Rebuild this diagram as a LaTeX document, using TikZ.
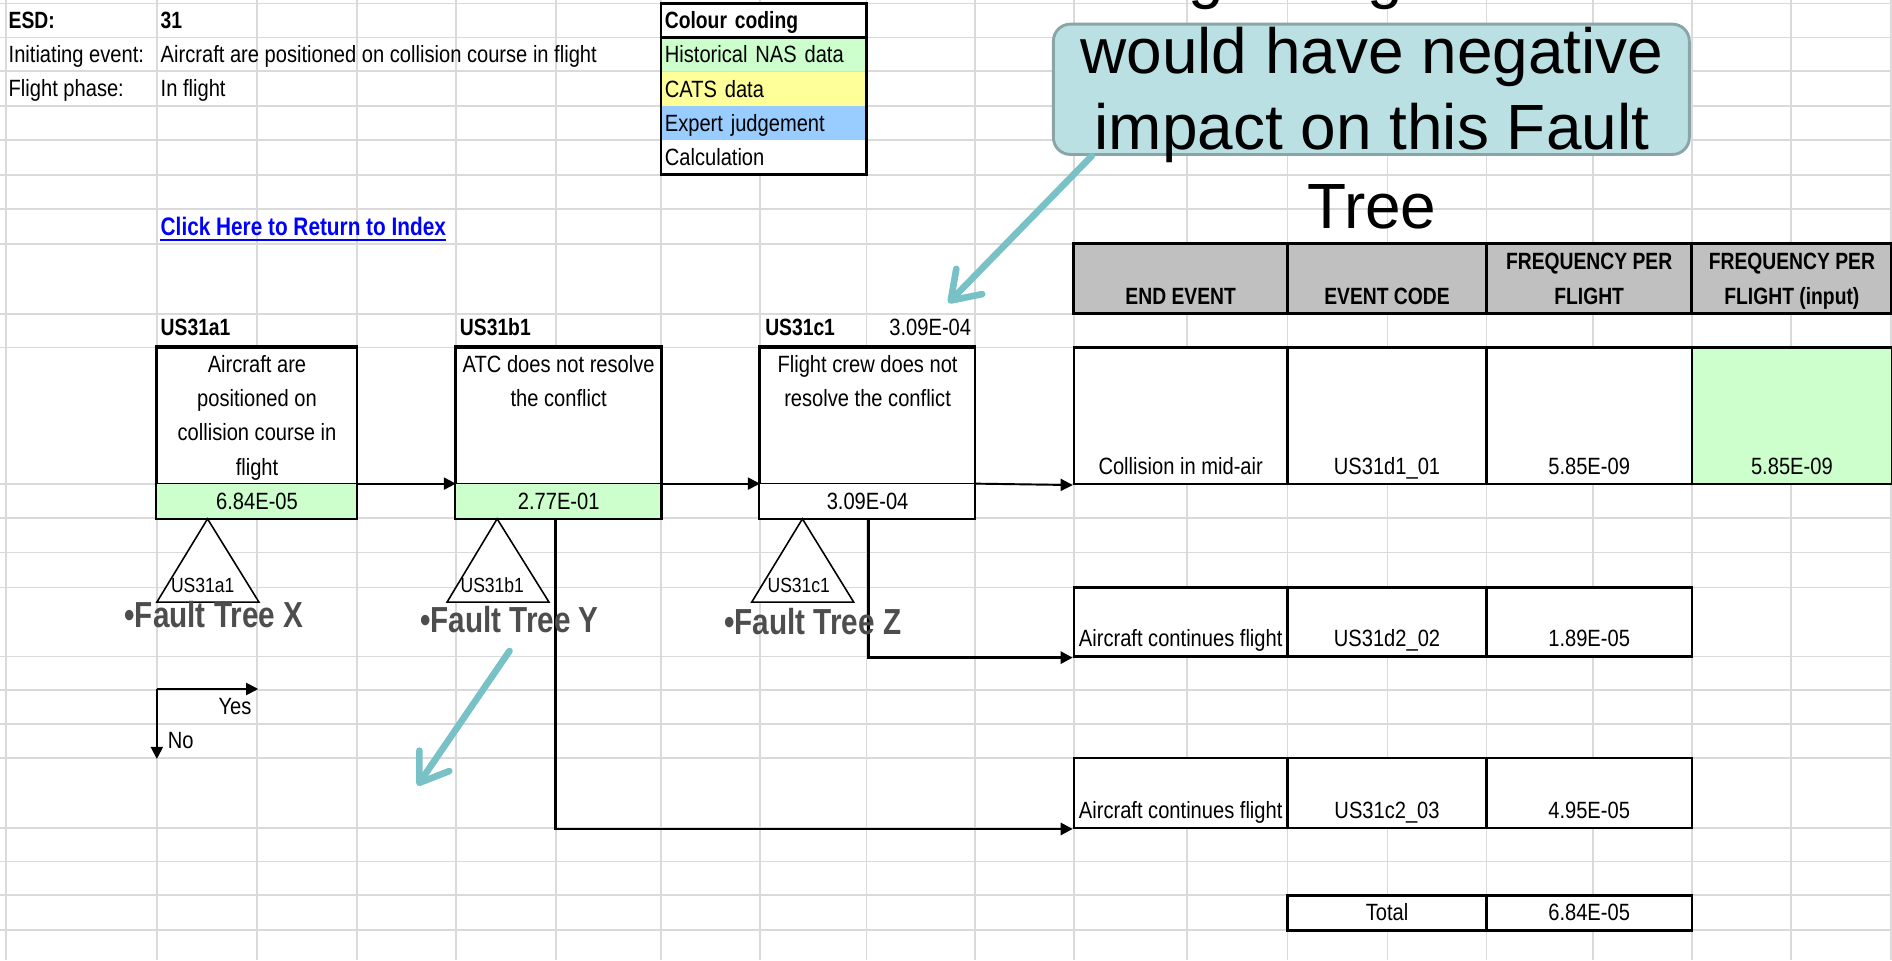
\documentclass[tikz,border=0pt]{standalone}
\usepackage{fontspec}
\setmainfont{Liberation Sans}
\newfontfamily\narrowfont[FakeStretch=0.855]{Liberation Sans}
\newfontfamily\narrowbold[FakeStretch=0.82]{Liberation Sans Bold}
\usetikzlibrary{arrows.meta}
\definecolor{gridgray}{RGB}{218,218,218}
\definecolor{nasgreen}{RGB}{204,255,204}
\definecolor{catsyellow}{RGB}{255,255,153}
\definecolor{expertblue}{RGB}{153,204,255}
\definecolor{hdrgray}{RGB}{192,192,192}
\definecolor{calloutfill}{RGB}{187,224,227}
\definecolor{calloutedge}{RGB}{138,165,168}
\definecolor{arrowteal}{RGB}{120,193,198}
\definecolor{ftgray}{RGB}{77,77,77}
\definecolor{linkblue}{RGB}{0,0,255}
\newcommand\cellfnt{\narrowfont\fontsize{19.5}{28.5}\selectfont}
\newcommand\cellbfnt{\narrowbold\fontsize{19.5}{28.5}\selectfont}
\newcommand\linkfnt{\narrowbold\fontsize{21}{28.5}\selectfont}
\newcommand\ftfnt{\narrowbold\fontsize{30}{34}\selectfont}
\newcommand\bigfnt{\fontsize{53}{64}\selectfont}
\newcommand\trifnt{\narrowfont\fontsize{17}{20}\selectfont}
\tikzset{
  gridln/.style={draw=gridgray, line width=1.4},
  txt/.style={inner sep=0pt, font=\cellfnt},
  btxt/.style={inner sep=0pt, font=\cellbfnt},
  legcell/.style={inner xsep=3pt, inner ysep=0pt, text width=164pt, align=left,
    minimum height=28.4, text height=15pt, text depth=1pt, font=\cellfnt},
  evbox/.style={draw, line width=1.8, fill=white, inner sep=0pt},
  evval/.style={inner sep=0pt, text height=15pt, text depth=1pt, font=\cellfnt},
  boxln/.style={line width=1.8},
  triln/.style={line width=1.3},
  trilab/.style={inner sep=0pt, font=\trifnt},
  ftlab/.style={inner sep=0pt, font=\ftfnt, text=ftgray},
  hdrcell/.style={draw, line width=2.6, fill=hdrgray, inner sep=0pt, minimum height=58},
  tcell/.style={draw, line width=2, fill=white, inner sep=0pt},
  blkarr/.style={line width=1.6, -{Triangle[length=10pt,width=10pt]}},
  blkarrthick/.style={line width=2.3, -{Triangle[length=10pt,width=10pt]}},
  tealarr/.style={draw=arrowteal, line width=5.5, line cap=round,
    -{Straight Barb[length=22pt,width=30pt,line cap=round,line join=round]}},
  bigtxt/.style={inner sep=0pt, font=\bigfnt},
}
\begin{document}
\begin{tikzpicture}[x=1pt,y=-1pt]
\useasboundingbox (0,0) rectangle (1568,796);
\fill[white] (0,0) rectangle (1568,796);
% spreadsheet grid
\foreach \gx in {5,130,213,296,378,461,548,630,718,808,890,984,1067,1150,1232,1320,1402,1484,1567}
  \draw[gridln] (\gx,0) -- (\gx,796);
\foreach \gy in {3,31,59,88,116,145,173,202,260,288,401,429,458,487,544,572,600,628,686,714,742,771}
  \draw[gridln] (0,\gy) -- (1568,\gy);

% header information
\node[btxt, anchor=base west] (esd) at (7,24) {ESD:};
\node[btxt, anchor=base west] (esdnum) at (133,24) {31};
\node[txt, anchor=base west] (inilab) at (7,52) {Initiating event:};
\node[txt, anchor=base west] (initxt) at (133,52) {Aircraft are positioned on collision course in flight};
\node[txt, anchor=base west] (phlab) at (7,80) {Flight phase:};
\node[txt, anchor=base west] (phtxt) at (133,80) {In flight};
\node[inner sep=0pt, font=\linkfnt, anchor=base west, text=linkblue] (link) at (133,195) {Click Here to Return to Index};
\draw[linkblue, line width=1.8] ([yshift=-3.5pt]link.south west) -- ([yshift=-3.5pt]link.south east);

% colour coding legend
\node[legcell, fill=white, font=\cellbfnt] (leghd) at (633,17) {Colour coding};
\node[legcell, fill=nasgreen] (legnas) at (633,45) {Historical NAS data};
\node[legcell, fill=catsyellow] (legcats) at (633,73.5) {CATS data};
\node[legcell, fill=expertblue] (legexp) at (633,102) {Expert judgement};
\node[legcell, fill=white] (legcalc) at (633,130.5) {Calculation};
\draw[line width=2.4] (leghd.north west) rectangle (legcalc.south east);
\draw[line width=2.4] (leghd.south west) -- (leghd.south east);

% callout
\node[draw=calloutedge, fill=calloutfill, line width=2.4, rounded corners=14pt,
  minimum width=527, minimum height=108, inner sep=0pt] (callout) at (1136.5,74) {};
\node[bigtxt, anchor=base] (g1) at (1000,-3) {g};
\node[bigtxt, anchor=base] (g2) at (1148,-3) {g};
\node[bigtxt, anchor=base] (cl1) at (1137,61) {would have negative};
\node[bigtxt, anchor=base] (cl2) at (1137,124) {impact on this Fault};
\node[bigtxt, anchor=base] (cl3) at (1137,189) {Tree};

% end-event table header
\node[hdrcell, minimum width=177] (h1) at (978.5,231) {};
\node[hdrcell, minimum width=165] (h2) at (1149.5,231) {};
\node[hdrcell, minimum width=170] (h3) at (1317,231) {};
\node[hdrcell, minimum width=166] (h4) at (1485,231) {};
\node[btxt, anchor=base] (h1t) at (h1 |- 0,252) {END EVENT};
\node[btxt, anchor=base] (h2t) at (h2 |- 0,252) {EVENT CODE};
\node[btxt, anchor=base] (h3ta) at (h3 |- 0,223) {FREQUENCY PER};
\node[btxt, anchor=base] (h3tb) at (h3 |- 0,252) {FLIGHT};
\node[btxt, anchor=base] (h4ta) at (h4 |- 0,223) {FREQUENCY PER};
\node[btxt, anchor=base] (h4tb) at (h4 |- 0,252) {FLIGHT (input)};

% table rows
\node[tcell, minimum width=177, minimum height=113] (r1c1) at (978.5,344.5) {};
\node[tcell, minimum width=165, minimum height=113] (r1c2) at (1149.5,344.5) {};
\node[tcell, minimum width=170, minimum height=113] (r1c3) at (1317,344.5) {};
\node[tcell, minimum width=166, minimum height=113, fill=nasgreen] (r1c4) at (1485,344.5) {};
\node[txt, anchor=base] (r1t1) at (r1c1 |- 0,393) {Collision in mid-air};
\node[txt, anchor=base] (r1t2) at (r1c2 |- 0,393) {US31d1\_01};
\node[txt, anchor=base] (r1t3) at (r1c3 |- 0,393) {5.85E-09};
\node[txt, anchor=base] (r1t4) at (r1c4 |- 0,393) {5.85E-09};

\node[tcell, minimum width=177, minimum height=57] (r2c1) at (978.5,515.5) {};
\node[tcell, minimum width=165, minimum height=57] (r2c2) at (1149.5,515.5) {};
\node[tcell, minimum width=170, minimum height=57] (r2c3) at (1317,515.5) {};
\node[txt, anchor=base] (r2t1) at (r2c1 |- 0,536) {Aircraft continues flight};
\node[txt, anchor=base] (r2t2) at (r2c2 |- 0,536) {US31d2\_02};
\node[txt, anchor=base] (r2t3) at (r2c3 |- 0,536) {1.89E-05};

\node[tcell, minimum width=177, minimum height=58] (r3c1) at (978.5,657) {};
\node[tcell, minimum width=165, minimum height=58] (r3c2) at (1149.5,657) {};
\node[tcell, minimum width=170, minimum height=58] (r3c3) at (1317,657) {};
\node[txt, anchor=base] (r3t1) at (r3c1 |- 0,678) {Aircraft continues flight};
\node[txt, anchor=base] (r3t2) at (r3c2 |- 0,678) {US31c2\_03};
\node[txt, anchor=base] (r3t3) at (r3c3 |- 0,678) {4.95E-05};

\node[tcell, minimum width=165, minimum height=29] (tot1) at (1149.5,756.5) {};
\node[tcell, minimum width=170, minimum height=29] (tot2) at (1317,756.5) {};
\node[txt, anchor=base] (tot1t) at (tot1 |- 0,763) {Total};
\node[txt, anchor=base] (tot2t) at (tot2 |- 0,763) {6.84E-05};

% event boxes
\node[btxt, anchor=base west] (la) at (133,278) {US31a1};
\node[btxt, anchor=base west] (lb) at (381,278) {US31b1};
\node[btxt, anchor=base west] (lc) at (634,278) {US31c1};
\node[txt, anchor=base east] (lcval) at (805,278) {3.09E-04};

\node[evbox, minimum width=166, minimum height=113] (desca) at (213,344.5) {};
\node[evval, fill=nasgreen, minimum width=166, minimum height=29] (vala) at (213,415.5) {6.84E-05};
\draw[boxln] (desca.north west) rectangle (vala.south east);
\node[txt, align=center, anchor=north] (ta) at (213,294) {Aircraft are\\positioned on\\collision course in\\flight};

\node[evbox, minimum width=170, minimum height=113] (descb) at (463,344.5) {};
\node[evval, fill=nasgreen, minimum width=170, minimum height=29] (valb) at (463,415.5) {2.77E-01};
\draw[boxln] (descb.north west) rectangle (valb.south east);
\node[txt, align=center, anchor=north] (tb) at (463,294) {ATC does not resolve\\the conflict};

\node[evbox, minimum width=178, minimum height=113] (descc) at (719,344.5) {};
\node[evval, fill=white, minimum width=178, minimum height=29] (valc) at (719,415.5) {3.09E-04};
\draw[boxln] (descc.north west) rectangle (valc.south east);
\node[txt, align=center, anchor=north] (tc) at (719,294) {Flight crew does not\\resolve the conflict};

% connectors
\draw[blkarr] (vala.north east) -- (valb.north west);
\draw[blkarr] (valb.north east) -- (valc.north west);
\draw[blkarr] (valc.north east) -- (r1c1.south west);
\draw[blkarrthick] ([xshift=1pt]valc.south) |- (r2c1.south west);
\draw[blkarrthick] ([xshift=-2.5pt]valb.south) |- (r3c1.south west);

% fault tree triangles
\draw[triln, fill=white] (172,430) -- (214.6,499) -- (130,499) -- cycle;
\node[trilab, anchor=base] (tria) at (168,491) {US31a1};
\draw[triln, fill=white] (412,430) -- (455,499) -- (370.5,499) -- cycle;
\node[trilab, anchor=base] (trib) at (408,491) {US31b1};
\draw[triln, fill=white] (665,430) -- (707.5,499) -- (623,499) -- cycle;
\node[trilab, anchor=base] (tric) at (662,491) {US31c1};

\node[ftlab, anchor=base west] (ftx) at (103,520) {•Fault Tree X};
\node[ftlab, anchor=base west] (fty) at (348,524) {•Fault Tree Y};
\node[ftlab, anchor=base west] (ftz) at (600,526) {•Fault Tree Z};

% yes / no legend
\coordinate (yn) at (130,571);
\coordinate (yesend) at (214,571);
\coordinate (noend) at (130,629);
\draw[blkarr] (yn) -- (yesend);
\draw[blkarr] (yn) -- (noend);
\node[txt, anchor=base west] (yes) at (181,592.5) {Yes};
\node[txt, anchor=base west] (no) at (139,620) {No};

% callout arrows
\coordinate (t1end) at (786,251);
\draw[tealarr] ([xshift=33pt]callout.south west) -- (t1end);
\coordinate (t2end) at (346,651);
\draw[tealarr] ([yshift=-15pt]fty.south) -- (t2end);
\end{tikzpicture}
\end{document}
